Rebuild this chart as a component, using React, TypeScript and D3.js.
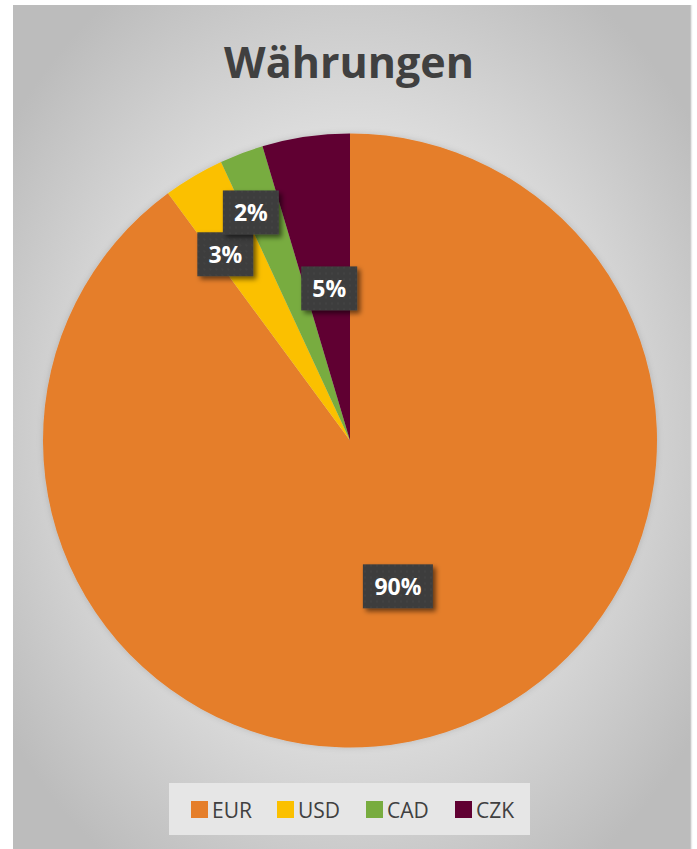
import React from "react";
import * as d3 from "d3";

const categories = ["EUR", "USD", "CAD", "CZK"];
const values = [89.9, 3.2, 2.3, 4.6];
const colors = ["#E57E2A", "#FBC000", "#78AC3F", "#600032"];
const title = "Währungen";

// label placement (fraction of radius, angular nudge in degrees)
const labelRadiusFrac = [0.5, 0.73, 0.81, 0.5];
const labelAngleNudge = [0, -3.2, -2.8, 0.5];

const W = 697;
const H = 849;

export default function App() {
  const cx = 350;
  const cy = 440.5;
  const r = 307;
  const total = d3.sum(values);
  const pie = d3.pie<number>().sort(null).value((d) => d);
  const arcs = pie(values);
  const arcGen = d3.arc<d3.PieArcDatum<number>>().innerRadius(0).outerRadius(r);
  const fmt = (v: number) => `${Math.round((v / total) * 100)}%`;

  const font = "'Open Sans', 'Noto Sans', sans-serif";

  // legend layout
  const legendX = [191, 277, 366, 455];

  return (
    <svg
      width={W}
      height={H}
      style={{ position: "absolute", left: 0, top: 0 }}
      xmlns="http://www.w3.org/2000/svg"
    >
      <defs>
        <radialGradient id="bg" cx="50%" cy="50%" r="62%">
          <stop offset="0%" stopColor="#e9e9e9" />
          <stop offset="55%" stopColor="#dedede" />
          <stop offset="100%" stopColor="#bcbcbc" />
        </radialGradient>
        <filter id="shadow" x="-30%" y="-30%" width="170%" height="170%">
          <feDropShadow dx="3" dy="3" stdDeviation="2.5" floodColor="#000" floodOpacity="0.55" />
        </filter>
        <filter id="pieShadow" x="-10%" y="-10%" width="120%" height="120%">
          <feDropShadow dx="0" dy="0" stdDeviation="3" floodColor="#000" floodOpacity="0.15" />
        </filter>
        <pattern id="dots" width="6" height="6" patternUnits="userSpaceOnUse">
          <rect width="6" height="6" fill="#3d3d3d" />
          <circle cx="3" cy="3" r="0.8" fill="#4a4a4a" />
        </pattern>
      </defs>
      <rect x={13} y={5} width={678} height={H} fill="url(#bg)" />
      <line x1={691.5} y1={5} x2={691.5} y2={H} stroke="#e9e9e9" strokeWidth={1.5} />

      <text
        x={349}
        y={78}
        textAnchor="middle"
        fontFamily={font}
        fontWeight={700}
        fontSize={43}
        fill="#404040"
      >
        {title}
      </text>

      <g transform={`translate(${cx},${cy})`} filter="url(#pieShadow)">
        {arcs.map((a, i) => (
          <path key={categories[i]} d={arcGen(a) || ""} fill={colors[i]} />
        ))}
      </g>

      <g transform={`translate(${cx},${cy})`}>
        {arcs.map((a, i) => {
          const mid = (a.startAngle + a.endAngle) / 2 + (labelAngleNudge[i] * Math.PI) / 180;
          const lr = r * labelRadiusFrac[i];
          const x = Math.sin(mid) * lr;
          const y = -Math.cos(mid) * lr;
          const label = fmt(values[i]);
          const bw = label.length === 3 ? 70 : 56;
          const bh = 44;
          return (
            <g key={categories[i]} transform={`translate(${x},${y})`}>
              <rect
                x={-bw / 2}
                y={-bh / 2}
                width={bw}
                height={bh}
                fill="url(#dots)"
                filter="url(#shadow)"
              />
              <text
                x={0}
                y={8.5}
                textAnchor="middle"
                fontFamily={font}
                fontWeight={700}
                fontSize={23}
                fill="#ffffff"
              >
                {label}
              </text>
            </g>
          );
        })}
      </g>

      <rect x={169} y={783} width={361} height={52} fill="#e6e6e6" />
      {categories.map((c, i) => (
        <g key={c}>
          <rect x={legendX[i]} y={801} width={17} height={17} fill={colors[i]} />
          <text
            x={legendX[i] + 21}
            y={818}
            fontFamily={font}
            fontSize={21}
            fill="#404040"
          >
            {c}
          </text>
        </g>
      ))}
    </svg>
  );
}
